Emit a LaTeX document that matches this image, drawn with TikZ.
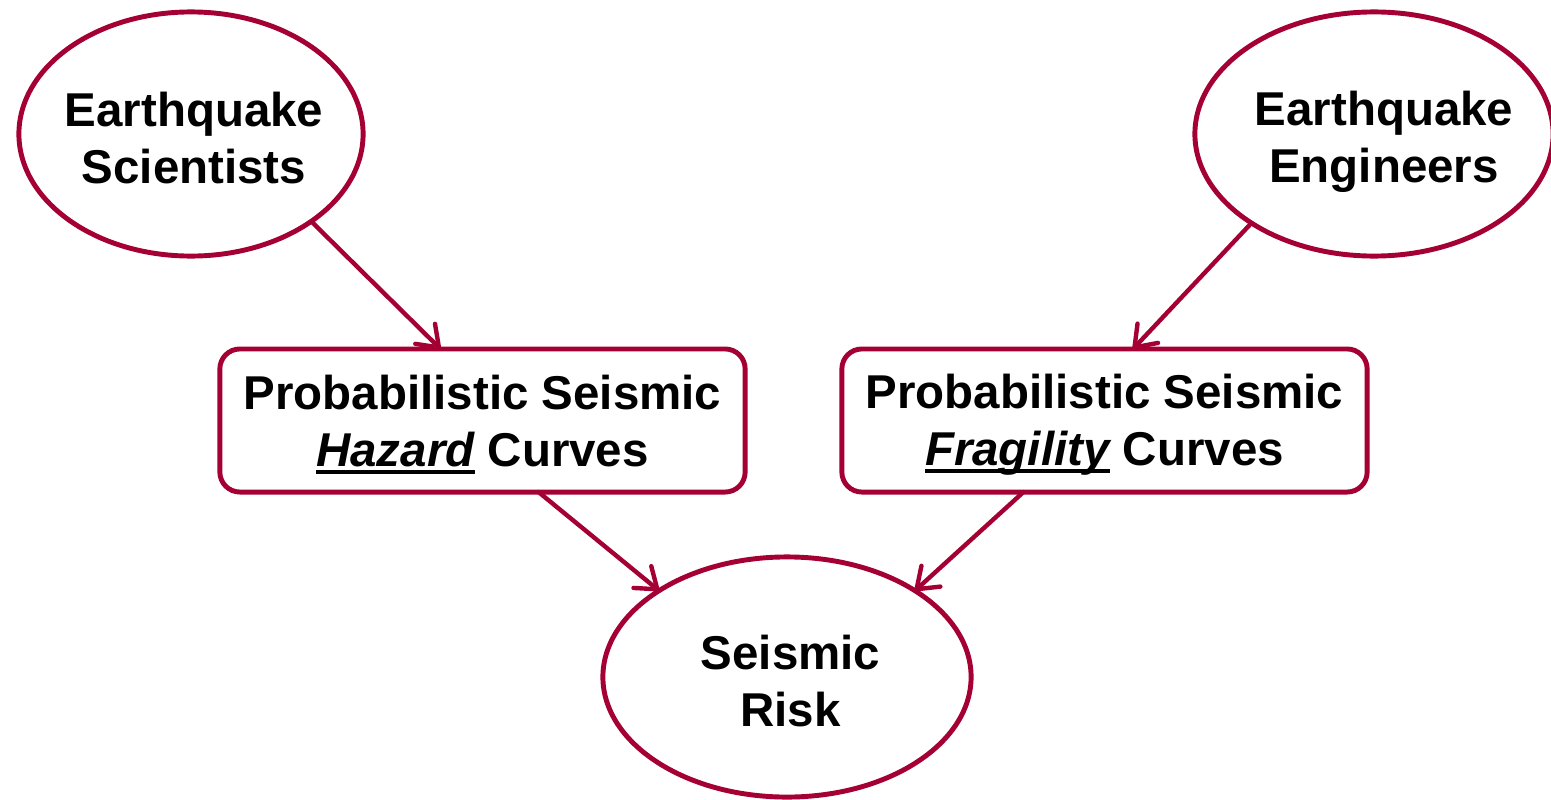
\documentclass[tikz,border=0pt]{standalone}
\usepackage{fontspec}
\setmainfont{Liberation Sans}
\usetikzlibrary{shapes.geometric,arrows.meta}
\definecolor{crimson}{HTML}{A50034}
% underline with a fixed rule position, crossing descenders
\newcommand\ulword[1]{\setbox0\hbox{#1}\rlap{\rule[-2.1pt]{\wd0}{1.1pt}}\box0\relax}
\tikzset{
  txt/.style={font=\fontsize{13.5pt}{16.2pt}\selectfont\bfseries, align=center, text=black},
  actor/.style={ellipse, draw=crimson, line width=1.4pt, inner sep=0pt, outer sep=0pt},
  curvebox/.style={rectangle, rounded corners=0.2cm, draw=crimson, line width=1.4pt,
    minimum width=5.25cm, minimum height=1.43cm, inner sep=0pt, outer sep=0pt},
  caption/.style={label={[txt, yshift=-0.04cm]center:#1}},
  flow/.style={draw=crimson, line width=1.25pt, line cap=round,
    -{Straight Barb[length=5.5pt,width=8pt,line cap=round,line join=round]}},
}
\begin{document}
\begin{tikzpicture}[x=0.01cm,y=-0.01cm]
\useasboundingbox[fill=white] (0,0) rectangle (1551,800);
\node[actor, minimum width=3.44cm, minimum height=2.44cm,
  label={[txt, yshift=-0.04cm, xshift=0.03cm]center:Earthquake\\Scientists}] (sci) at (191,134) {};
\node[actor, minimum width=3.58cm, minimum height=2.44cm,
  label={[txt, yshift=-0.08cm, xshift=0.1cm]center:Earthquake\\Engineers}] (eng) at (1374,134) {};
\node[curvebox, caption={Probabilistic Seismic\\\ulword{\itshape Hazard} Curves}] (haz) at (482.5,420.5) {};
\node[curvebox, caption={Probabilistic Seismic\\\ulword{\itshape Fragility} Curves}] (frag) at (1104.5,420.5) {};
\node[actor, minimum width=3.68cm, minimum height=2.4cm,
  label={[txt, yshift=-0.04cm, xshift=0.035cm]center:Seismic\\Risk}] (risk) at (787,677) {};
\draw[flow] (sci.-36) -- ([xshift=-0.42cm]haz.north);
\draw[flow] (eng.-144) -- ([xshift=0.285cm]frag.north);
\draw[flow] ([xshift=0.56cm]haz.south) -- (risk.146.6);
\draw[flow] ([xshift=-0.81cm]frag.south) -- (risk.34.2);
\end{tikzpicture}
\end{document}
